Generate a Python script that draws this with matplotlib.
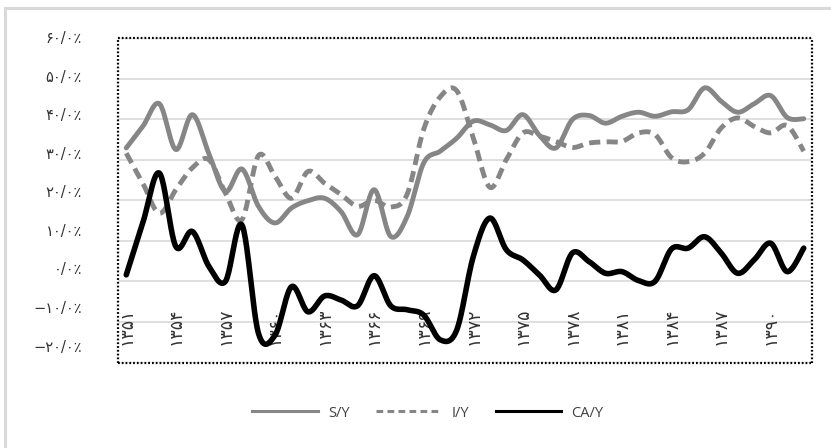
import numpy as np
import matplotlib.pyplot as plt
import matplotlib.transforms as mtransforms
from matplotlib.patches import Rectangle
from matplotlib.lines import Line2D

# سال‌ها ۱۳۵۱ تا ۱۳۹۲
years = list(range(1351, 1393))
tick_years = [1351, 1354, 1357, 1360, 1363, 1366, 1369, 1372, 1375, 1378, 1381, 1384, 1387, 1390]

s_y = [32.9, 38.2, 43.8, 32.5, 41.1, 31.5, 22.2, 27.7, 18.5, 14.4,
       18.1, 19.9, 20.5, 17.2, 11.5, 22.6, 11.1, 16.0, 29.2, 32.1,
       35.3, 39.5, 38.6, 37.2, 41.1, 36.0, 32.9, 39.9, 40.9, 39.0,
       40.7, 41.7, 40.7, 41.8, 42.3, 47.7, 44.4, 41.7, 43.8, 45.8,
       40.4, 40.1]
i_y = [31.6, 24.2, 16.8, 22.6, 28.0, 30.0, 21.8, 15.2, 31.0, 25.9,
       20.5, 27.1, 24.2, 21.4, 18.5, 20.0, 18.3, 21.5, 37.5, 45.5,
       47.0, 35.4, 23.2, 30.0, 36.6, 35.8, 34.5, 33.0, 34.1, 34.4,
       34.5, 36.6, 36.2, 30.5, 29.5, 31.6, 37.8, 40.3, 38.2, 36.6,
       38.4, 32.1]
ca_y = [1.6, 14.4, 26.7, 8.6, 12.3, 3.7, 0.0, 13.9, -12.8, -13.3,
        -1.3, -7.5, -3.6, -4.6, -6.0, 1.4, -6.0, -7.0, -8.3, -14.4,
        -12.0, 6.1, 15.6, 7.8, 5.3, 1.6, -2.1, 7.0, 4.9, 2.0,
        2.4, 0.2, 0.0, 8.0, 8.2, 11.0, 7.0, 2.0, 5.3, 9.4,
        2.4, 8.2]

y_ticks = [-20, -10, 0, 10, 20, 30, 40, 50, 60]

fa = str.maketrans('0123456789', '۰۱۲۳۴۵۶۷۸۹')


def fa_pct(v):
    s = '%d/0٪' % abs(v)
    s = s.translate(fa)
    return ('−' + s) if v < 0 else s


def smooth(x, y, n=24):
    # منحنی نرم شبیه اکسل
    p = np.column_stack([x, y]).astype(float)
    xs, ys = [], []
    for i in range(len(p) - 1):
        p0 = p[i - 1] if i > 0 else p[i]
        p1, p2 = p[i], p[i + 1]
        p3 = p[i + 2] if i + 2 < len(p) else p[i + 1]
        c1 = p1 + (p2 - p0) / 6
        c2 = p2 - (p3 - p1) / 6
        t = np.linspace(0, 1, n, endpoint=False)[:, None]
        b = ((1 - t) ** 3) * p1 + 3 * ((1 - t) ** 2) * t * c1 + 3 * (1 - t) * t ** 2 * c2 + t ** 3 * p2
        xs.extend(b[:, 0])
        ys.extend(b[:, 1])
    xs.append(p[-1, 0])
    ys.append(p[-1, 1])
    return np.array(xs), np.array(ys)


gray = '#868686'
xi = np.arange(len(years))

fig = plt.figure(figsize=(8.31, 4.48), dpi=100)
ax = fig.add_axes([118 / 831, 1 - 362.5 / 448, (812 - 118) / 831, (362.5 - 38) / 448])

sx, sy = smooth(xi, s_y)
ax.plot(sx, sy, color=gray, lw=3.5, solid_capstyle='round', solid_joinstyle='round', zorder=3)
ix, iy = smooth(xi, i_y)
ax.plot(ix, iy, color=gray, lw=3.5, linestyle=(0, (2.3, 1.3)), zorder=3)
cx, cy = smooth(xi, ca_y)
ax.plot(cx, cy, color='black', lw=4.0, solid_capstyle='round', solid_joinstyle='round', zorder=4)

ax.set_xlim(-0.5, len(years) - 0.5)
ax.set_ylim(-20, 60)
ax.set_yticks(y_ticks)
ax.set_yticklabels([fa_pct(v) for v in y_ticks], fontsize=10.5, color='#333333')
ax.tick_params(axis='y', length=0, pad=26)
for v, lab in zip(y_ticks, ax.get_yticklabels()):
    dy = (1 + (60 - v) * 0.2) / 100
    lab.set_transform(lab.get_transform() + mtransforms.ScaledTranslation(0, dy, fig.dpi_scale_trans))
ax.set_xticks([])
ax.grid(axis='y', color='#d9d9d9', lw=1.2, zorder=0)
for sp in ax.spines.values():
    sp.set_linestyle((0, (0.8, 0.9)))
    sp.set_linewidth(1.6)
    sp.set_color('black')
    sp.set_capstyle('butt')

for yr in tick_years:
    ax.text(years.index(yr), -11, str(yr).translate(fa), rotation=90,
            ha='center', va='center', fontsize=12.5, color='#333333', zorder=2)

# قاب بیرونی نمودار
fig.patches.append(Rectangle((5 / 831, -0.05), 1.1, 1 - 8 / 448 + 0.05, transform=fig.transFigure,
                             fill=False, edgecolor='#d9d9d9', lw=2.2))

handles = [Line2D([], [], color=gray, lw=2.2),
           Line2D([], [], color=gray, lw=2.2, linestyle=(0, (2.2, 1.4))),
           Line2D([], [], color='black', lw=2.2)]
fig.legend(handles, ['S/Y', 'I/Y', 'CA/Y'], loc='center', bbox_to_anchor=(428 / 831, 1 - 413 / 448),
           ncol=3, frameon=False, handlelength=4.5, handletextpad=0.7, columnspacing=1.8,
           prop={'family': 'Open Sans', 'size': 10.5}, labelcolor='#404040')

fig.savefig('out.png', dpi=100)
